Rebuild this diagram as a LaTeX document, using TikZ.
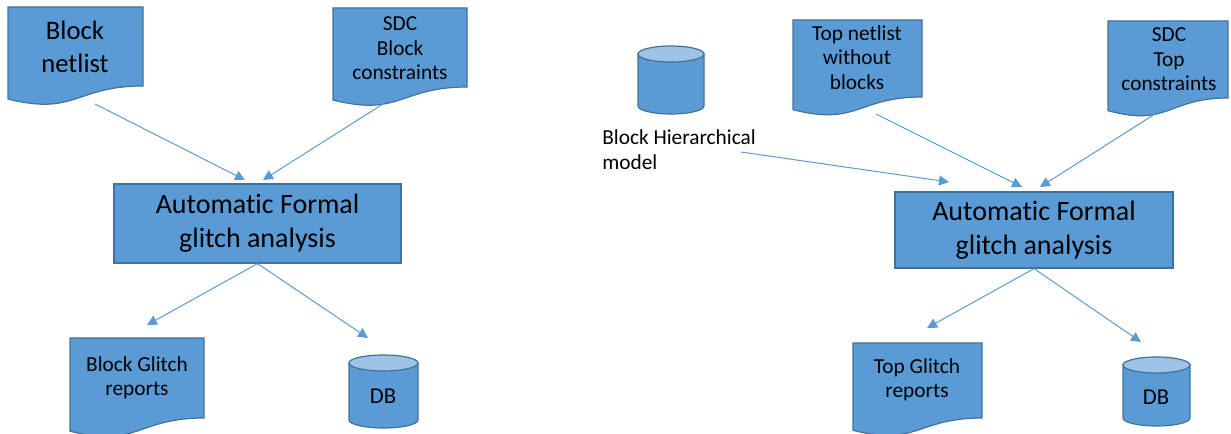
\documentclass[tikz,border=0pt]{standalone}
\usepackage{fontspec}
\setmainfont{Carlito}[Ligatures=NoCommon]
\usetikzlibrary{arrows.meta}

\definecolor{docblue}{HTML}{5B9BD5}
\definecolor{edgeblue}{HTML}{41719C}
\definecolor{lidblue}{HTML}{9DC3E6}

% Flow-chart document: x-left, x-right, top, height
\newcommand\docshape[4]{%
  \filldraw[blk] ({#1},{#3}) -- ({#2},{#3}) -- ({#2},{#3+0.802*#4})
    .. controls ({(#1+#2)/2},{#3+0.802*#4}) and ({(#1+#2)/2},{#3+1.107*#4}) ..
    ({#1},{#3+0.934*#4}) -- cycle;}

% Database cylinder: x-left, x-right, top, bottom
\newcommand\dbshape[4]{%
  \pgfmathsetmacro\dbcx{(#1+#2)/2}%
  \pgfmathsetmacro\dbrx{(#2-#1)/2}%
  \filldraw[blk] ({#1},{#3+8}) -- ({#1},{#4-8})
    arc[start angle=180,end angle=0,x radius=\dbrx,y radius=8]
    -- ({#2},{#3+8}) -- cycle;
  \filldraw[blk,fill=lidblue] (\dbcx,{#3+8}) ellipse[x radius=\dbrx,y radius=8];}

\tikzset{
  blk/.style={fill=docblue,draw=edgeblue,line width=0.9pt},
  procbox/.style={blk,rectangle,inner sep=0pt,align=center,
    font=\fontsize{21pt}{25.5pt}\selectfont},
  bigtxt/.style={align=center,inner sep=0pt,font=\fontsize{20pt}{24.75pt}\selectfont},
  smalltxt/.style={align=center,inner sep=0pt,font=\fontsize{16pt}{18.4pt}\selectfont},
  dbtxt/.style={inner sep=0pt,font=\fontsize{17pt}{20pt}\selectfont},
  flow/.style={draw=docblue,line width=0.75pt,-{Triangle[length=7.5pt,width=7.5pt]}}
}

\begin{document}
\begin{tikzpicture}[x=0.75pt,y=-0.75pt]
\useasboundingbox (0,0) rectangle (1231,434);

% ---------------- block-level flow ----------------
\docshape{8}{143}{7}{98.5}
\docshape{333}{467}{8}{98.5}
\docshape{70}{204}{338}{99.75}
\dbshape{349}{418}{355}{428}

\node[bigtxt] (bnet) at (75,46.5) {Block\\netlist};
\node[smalltxt] (bsdc) at (400,48.5) {SDC\\Block\\constraints};
\node[procbox,minimum width=287*0.75pt,minimum height=79*0.75pt] (bfga) at (257.5,223.5)
  {Automatic Formal\\glitch analysis};
\node[smalltxt] (brep) at (137,378) {Block Glitch\\reports};
\node[dbtxt] (bdb) at (383,396) {DB};

\coordinate (bnetout) at (95,104);
\coordinate (bsdcout) at (383,104);
\coordinate (bin1) at (245,180);
\coordinate (bin2) at (263,180);
\coordinate (brepin) at (147,325);
\coordinate (bdbin) at (368,338);

\draw[flow] (bnetout) -- (bin1);
\draw[flow] (bsdcout) -- (bin2);
\draw[flow] (bfga.south) -- (brepin);
\draw[flow] (bfga.south) -- (bdbin);

% ---------------- top-level flow ----------------
\dbshape{638}{704}{46}{114}
\docshape{793}{922}{20}{96}
\docshape{1108}{1228}{21}{96}
\docshape{853}{982}{343}{93.5}
\dbshape{1123}{1190}{357}{426}

\node[smalltxt,align=left,anchor=west] (hmod) at (602,149.5) {Block Hierarchical\\model};
\node[smalltxt] (tnet) at (857,57.5) {Top netlist\\without\\blocks};
\node[smalltxt] (tsdc) at (1169,59.5) {SDC\\Top\\constraints};
\node[procbox,minimum width=278*0.75pt,minimum height=76*0.75pt] (tfga) at (1034,230)
  {Automatic Formal\\glitch analysis};
\node[smalltxt] (trep) at (917,380) {Top Glitch\\reports};
\node[dbtxt] (tdb) at (1156,397) {DB};

\coordinate (hmodout) at (741,152);
\coordinate (tnetout) at (876,114);
\coordinate (tsdcout) at (1155,114);
\coordinate (tin0) at (949,182);
\coordinate (tin1) at (1022,187);
\coordinate (tin2) at (1040,187);
\coordinate (trepin) at (927,328);
\coordinate (tdbin) at (1141,342);

\draw[flow] (hmodout) -- (tin0);
\draw[flow] (tnetout) -- (tin1);
\draw[flow] (tsdcout) -- (tin2);
\draw[flow] (tfga.south) -- (trepin);
\draw[flow] (tfga.south) -- (tdbin);
\end{tikzpicture}
\end{document}
